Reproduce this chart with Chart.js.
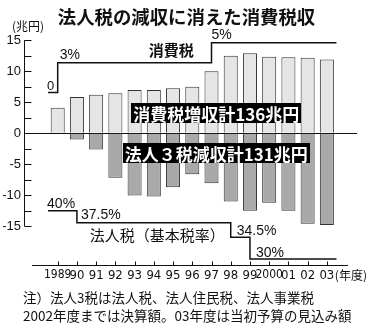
<!DOCTYPE html>
<html><head><meta charset="utf-8">
<script src="https://cdn.jsdelivr.net/npm/chart.js@4"></script>
<style>
html,body{margin:0;padding:0;background:#fff;}
#wrap{position:relative;width:380px;height:329px;overflow:hidden;font-family:'Noto Sans CJK JP',sans-serif;color:#111;}
#c{position:absolute;left:0;top:0;}
#title{position:absolute;left:0;width:373px;top:6px;text-align:center;font-weight:bold;font-size:18.4px;line-height:20px;white-space:nowrap;}
#unit{position:absolute;left:12px;top:19px;font-size:12px;line-height:14px;}
#note{position:absolute;left:23px;top:289px;font-size:13.5px;line-height:17.5px;white-space:nowrap;}
</style></head>
<body><div id="wrap">
<canvas id="c" width="380" height="329"></canvas>
<div id="title">法人税の減収に消えた消費税収</div>
<div id="unit">(兆円)</div>
<div id="note">注）法人3税は法人税、法人住民税、法人事業税<br>2002年度までは決算額。03年度は当初予算の見込み額</div>
</div>
<script>
// ---- data ----
const years = ['1989','90','91','92','93','94','95','96','97','98','99','2000','01','02','03'];
const consumptionIncrease = [4.1, 5.85, 6.2, 6.45, 7.0, 7.0, 7.25, 7.5, 10.0, 12.5, 12.9, 12.35, 12.25, 12.2, 11.9];
const corporateDecrease = [0, -1.0, -2.6, -7.15, -10.05, -10.2, -8.7, -6.6, -8.05, -11.0, -12.5, -11.2, -12.5, -14.6, -14.8];
const consumptionRateBefore = 0;
const consumptionRate = [3, 3, 3, 3, 3, 3, 3, 3, 5, 5, 5, 5, 5, 5, 5];
const corporateRateBefore = 40;
const corporateRate = [40, 37.5, 37.5, 37.5, 37.5, 37.5, 37.5, 37.5, 37.5, 34.5, 30, 30, 30, 30, 30];
const yTickValues = [-15, -10, -5, 0, 5, 10, 15];
const yMinorStep = 2.5;
const consumptionTotalLabel = '消費税増収計136兆円';
const corporateTotalLabel = '法人３税減収計131兆円';
const consumptionLineLabel = '消費税';
const corporateLineLabel = '法人税（基本税率）';
const yearUnitLabel = '(年度)';

// ---- build ----
const toXY = arr => arr.map((v, i) => ({x: i, y: v}));
const stepData = (before, arr) => [{x: -0.5, y: before}, ...toXY(arr), {x: arr.length - 0.5, y: arr[arr.length - 1]}];

const JP = "'Noto Sans CJK JP', 'Noto Sans', sans-serif";
const NUM = "'Liberation Sans', 'Noto Sans', sans-serif";
const NARROW = "'Liberation Sans Narrow', 'DejaVu Sans Condensed', 'Liberation Sans', sans-serif";

const decor = {
  id: 'decor',
  afterDraw(chart) {
    const {ctx, chartArea: a, scales: {x, y, yc, yk}} = chart;
    ctx.save();
    ctx.strokeStyle = '#111';
    ctx.lineWidth = 1;
    ctx.beginPath();
    const ax = Math.round(a.left) + 0.5;
    ctx.moveTo(ax, y.getPixelForValue(yTickValues[yTickValues.length - 1]));
    ctx.lineTo(ax, y.getPixelForValue(yTickValues[0]));
    for (let v = yTickValues[0]; v <= yTickValues[yTickValues.length - 1]; v += yMinorStep) {
      const py = Math.round(y.getPixelForValue(v)) + 0.5;
      ctx.moveTo(ax, py); ctx.lineTo(ax + 7, py);
    }
    const by = Math.round(a.bottom) + 0.5;
    ctx.moveTo(a.left + 8, by); ctx.lineTo(a.right - 9, by);
    years.forEach((_, i) => {
      const px = Math.round(x.getPixelForValue(i)) + 0.5;
      ctx.moveTo(px, by); ctx.lineTo(px, by - 4);
    });
    ctx.stroke();

    const txt = (s, px, py, font, align, base, color) => {
      ctx.font = font; ctx.textAlign = align || 'left'; ctx.textBaseline = base || 'alphabetic';
      ctx.fillStyle = color || '#111'; ctx.fillText(s, px, py);
    };
    const pf = '14px ' + NUM;
    txt('0', x.getPixelForValue(-0.5) - 1, yc.getPixelForValue(0) - 2.5, '13px ' + NUM);
    txt('3%', x.getPixelForValue(0) + 2, yc.getPixelForValue(3) - 4, pf);
    txt('5%', x.getPixelForValue(8), yc.getPixelForValue(5) - 3.5, pf);
    txt(consumptionLineLabel, x.getPixelForValue(5.9), yc.getPixelForValue(3) - 12, 'bold 15px ' + JP, 'center', 'middle');
    txt('40%', x.getPixelForValue(-0.5) - 1, yk.getPixelForValue(40) - 2.5, pf);
    txt('37.5%', x.getPixelForValue(1) + 4, yk.getPixelForValue(37.5) - 3.5, pf);
    txt('34.5%', x.getPixelForValue(9) + 6, yk.getPixelForValue(34.5) - 2, pf);
    txt('30%', x.getPixelForValue(10) + 6, yk.getPixelForValue(30) - 2.5, pf);
    txt(corporateLineLabel, x.getPixelForValue(5.18), yk.getPixelForValue(37.5) + 13, '15px ' + JP, 'center', 'middle');
    txt(yearUnitLabel, x.getPixelForValue(years.length - 1) + 8, a.bottom + 10, '12px ' + JP, 'left', 'middle');
    const box = (s, cx, cy) => {
      ctx.font = 'bold 17px ' + JP;
      const w = ctx.measureText(s).width + 4;
      ctx.fillStyle = '#000';
      ctx.fillRect(Math.round(cx - w / 2), Math.round(cy - 10), Math.round(w), 20);
      ctx.fillStyle = '#fff'; ctx.textAlign = 'center'; ctx.textBaseline = 'middle';
      ctx.fillText(s, cx, cy + 1);
    };
    box(consumptionTotalLabel, x.getPixelForValue(8.25), y.getPixelForValue(3.25));
    box(corporateTotalLabel, x.getPixelForValue(8.25), y.getPixelForValue(-3.25));
    ctx.restore();
  }
};

new Chart(document.getElementById('c'), {
  type: 'bar',
  data: {
    datasets: [
      {type: 'bar', data: toXY(consumptionIncrease), backgroundColor: '#e5e5e5', borderColor: '#333', borderWidth: 1, grouped: false, barPercentage: 0.73, categoryPercentage: 1, yAxisID: 'y', order: 2},
      {type: 'bar', data: toXY(corporateDecrease), backgroundColor: '#a9a9a9', borderColor: '#333', borderWidth: 1, grouped: false, barPercentage: 0.73, categoryPercentage: 1, yAxisID: 'y', order: 2},
      {type: 'line', data: stepData(consumptionRateBefore, consumptionRate), stepped: true, borderColor: '#111', borderWidth: 1.5, pointRadius: 0, fill: false, yAxisID: 'yc', order: 1},
      {type: 'line', data: stepData(corporateRateBefore, corporateRate), stepped: true, borderColor: '#111', borderWidth: 1.5, pointRadius: 0, fill: false, yAxisID: 'yk', order: 1}
    ]
  },
  options: {
    responsive: false,
    animation: false,
    devicePixelRatio: 1,
    layout: {padding: {left: 0, right: 23, top: 37, bottom: 0}},
    plugins: {legend: {display: false}, tooltip: {enabled: false}},
    scales: {
      x: {
        type: 'linear', min: -1.175, max: 14.99,
        afterBuildTicks(s) { s.ticks = years.map((_, i) => ({value: i})); },
        afterFit(s) { s.height = 64; },
        grid: {display: false, drawTicks: false},
        border: {display: false},
        ticks: {
          autoSkip: false, maxRotation: 0, padding: 3, color: '#111',
          callback: v => years[v],
          font: c => ({family: NARROW, size: (years[c.index] || '').length > 2 ? 12 : 13})
        }
      },
      y: {
        min: -21.24, max: 15.53,
        afterBuildTicks(s) { s.ticks = yTickValues.map(v => ({value: v})); },
        afterFit(s) { s.width = 24; },
        grid: {drawTicks: false, lineWidth: 1, color: c => (c.tick && c.tick.value === 0) ? '#111' : 'rgba(0,0,0,0)'},
        border: {display: false},
        ticks: {padding: 3, color: '#111', font: {family: NUM, size: 13}}
      },
      yc: {type: 'linear', display: false, min: -17.36, max: 5.58},
      yk: {type: 'linear', display: false, min: 28.76, max: 75.96}
    }
  },
  plugins: [decor]
});
</script>
</body></html>
